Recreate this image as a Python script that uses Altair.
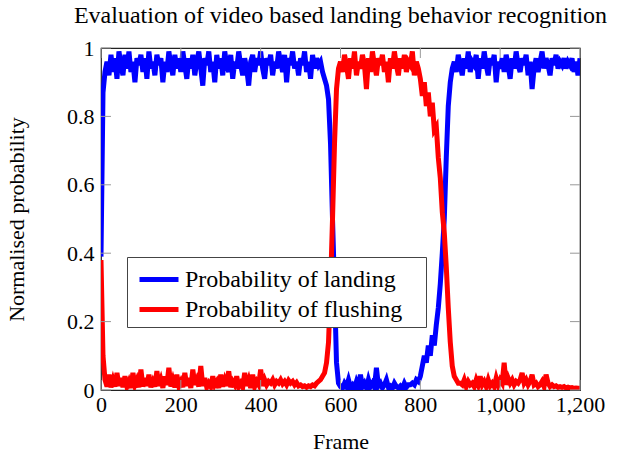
import altair as alt
import pandas as pd

frames = list(range(0, 1201, 5))

landing = [
    0.39, 0.87, 0.93, 0.96, 0.92, 0.98, 0.93, 0.97, 0.91, 0.99,
    0.95, 0.92, 0.98, 0.94, 0.99, 0.93, 0.96, 0.90, 0.97, 0.95,
    0.98, 0.93, 0.97, 0.91, 0.99, 0.94, 0.96, 0.92, 0.98, 0.95,
    0.97, 0.90, 0.96, 0.93, 0.99, 0.95, 0.92, 0.98, 0.94, 0.97,
    0.93, 0.99, 0.95, 0.91, 0.97, 0.94, 0.98, 0.92, 0.96, 0.99,
    0.94, 0.89, 0.97, 0.95, 0.99, 0.93, 0.96, 0.90, 0.98, 0.94,
    0.97, 0.92, 0.99, 0.95, 0.93, 0.98, 0.91, 0.96, 0.94, 0.99,
    0.95, 0.92, 0.97, 0.94, 0.89, 0.96, 0.98, 0.93, 0.97, 0.95,
    0.99, 0.94, 0.91, 0.97, 0.95, 0.98, 0.92, 0.96, 0.94, 0.99,
    0.96, 0.93, 0.98, 0.90, 0.97, 0.95, 0.99, 0.94, 0.96, 0.92,
    0.97, 0.95, 0.99, 0.93, 0.96, 0.91, 0.98, 0.94, 0.97, 0.95,
    0.96, 0.93, 0.91, 0.89, 0.85, 0.72, 0.50, 0.30, 0.08, 0.02,
    0.01, 0.005, 0.02, 0.01, 0.03, 0.008, 0.015, 0.005, 0.025, 0.01,
    0.045, 0.01, 0.02, 0.006, 0.03, 0.01, 0.02, 0.008, 0.065, 0.012,
    0.02, 0.006, 0.015, 0.03, 0.008, 0.012, 0.005, 0.02, 0.01, 0.006,
    0.012, 0.005, 0.02, 0.008, 0.015, 0.015, 0.02, 0.015, 0.03, 0.025,
    0.04, 0.07, 0.10, 0.08, 0.13, 0.10, 0.16, 0.13, 0.19, 0.24,
    0.31, 0.40, 0.50, 0.68, 0.83, 0.90, 0.94, 0.96, 0.93, 0.98,
    0.95, 0.92, 0.97, 0.94, 0.99, 0.93, 0.96, 0.95, 0.98, 0.91,
    0.97, 0.94, 0.99, 0.95, 0.92, 0.97, 0.95, 0.98, 0.90, 0.96,
    0.94, 0.97, 0.93, 0.98, 0.95, 0.91, 0.97, 0.94, 0.99, 0.95,
    0.93, 0.97, 0.95, 0.98, 0.92, 0.96, 0.88, 0.94, 0.97, 0.93,
    0.96, 0.99, 0.94, 0.97, 0.95, 0.92, 0.97, 0.95, 0.98, 0.94,
    0.96, 0.95, 0.97, 0.94, 0.96, 0.95, 0.97, 0.93, 0.96, 0.92,
    0.97,
]

flushing = [
    0.38, 0.10, 0.03, 0.01, 0.045, 0.008, 0.03, 0.01, 0.05, 0.012,
    0.035, 0.008, 0.04, 0.01, 0.025, 0.006, 0.05, 0.015, 0.03, 0.008,
    0.06, 0.01, 0.035, 0.012, 0.045, 0.008, 0.025, 0.01, 0.055, 0.012,
    0.03, 0.006, 0.04, 0.015, 0.065, 0.01, 0.03, 0.008, 0.045, 0.012,
    0.025, 0.008, 0.05, 0.012, 0.035, 0.006, 0.06, 0.015, 0.03, 0.01,
    0.07, 0.012, 0.035, 0.008, 0.02, 0.01, 0.04, 0.015, 0.025, 0.006,
    0.045, 0.01, 0.03, 0.012, 0.055, 0.008, 0.025, 0.015, 0.04, 0.01,
    0.02, 0.008, 0.05, 0.012, 0.03, 0.006, 0.045, 0.01, 0.025, 0.015,
    0.06, 0.012, 0.03, 0.015, 0.025, 0.02, 0.03, 0.015, 0.025, 0.02,
    0.03, 0.018, 0.025, 0.015, 0.028, 0.02, 0.025, 0.015, 0.022, 0.012,
    0.015, 0.01, 0.012, 0.008, 0.012, 0.01, 0.015, 0.012, 0.02, 0.025,
    0.03, 0.04, 0.05, 0.08, 0.14, 0.30, 0.50, 0.72, 0.88, 0.94,
    0.96, 0.93, 0.98, 0.95, 0.91, 0.97, 0.94, 0.99, 0.92, 0.96,
    0.94, 0.98, 0.95, 0.88, 0.97, 0.93, 0.99, 0.95, 0.92, 0.97,
    0.95, 0.98, 0.93, 0.96, 0.90, 0.97, 0.94, 0.99, 0.95, 0.92,
    0.97, 0.94, 0.98, 0.93, 0.96, 0.95, 0.99, 0.92, 0.96, 0.94,
    0.91, 0.86, 0.90, 0.83, 0.87, 0.80, 0.84, 0.76, 0.77, 0.68,
    0.62, 0.52, 0.46, 0.36, 0.24, 0.14, 0.07, 0.04, 0.03, 0.02,
    0.02, 0.015, 0.03, 0.01, 0.025, 0.015, 0.02, 0.01, 0.03, 0.015,
    0.04, 0.015, 0.025, 0.01, 0.03, 0.012, 0.02, 0.01, 0.035, 0.015,
    0.03, 0.02, 0.08, 0.015, 0.035, 0.02, 0.03, 0.015, 0.025, 0.02,
    0.03, 0.05, 0.02, 0.03, 0.015, 0.025, 0.045, 0.015, 0.02, 0.01,
    0.015, 0.025, 0.01, 0.045, 0.02, 0.01, 0.015, 0.01, 0.012, 0.008,
    0.01, 0.008, 0.01, 0.006, 0.008, 0.006, 0.007, 0.005, 0.006, 0.005,
    0.005,
]

series_names = ["Probability of landing", "Probability of flushing"]
series_colors = ["#0000ff", "#ff0000"]
x_ticks = [0, 200, 400, 600, 800, 1000, 1200]
y_ticks = [0, 0.2, 0.4, 0.6, 0.8, 1.0]

df = pd.DataFrame({
    "frame": frames * 2,
    "p": landing + flushing,
    "series": [series_names[0]] * len(frames) + [series_names[1]] * len(frames),
})

W, H = 479, 342
FONT = "Liberation Serif"
FS = 22

xscale = alt.Scale(domain=[0, 1200], nice=False, zero=False)
yscale = alt.Scale(domain=[0, 1], nice=False)

axis_style = dict(
    labelFlush=False, labelOverlap=False, ticks=False, domain=False, grid=False,
    labelFont=FONT, labelFontSize=FS, labelColor="black",
    titleFont=FONT, titleFontSize=FS, titleFontWeight="normal", titleColor="black",
)
x_axis = alt.Axis(values=x_ticks, format=",d", labelPadding=4, titlePadding=16, **axis_style)
y_axis = alt.Axis(values=y_ticks, format="~g", labelPadding=7, titlePadding=38, **axis_style)
X_TITLE = "Frame"
Y_TITLE = "Normalised probability"

color = alt.Color(
    "series:N",
    scale=alt.Scale(domain=series_names, range=series_colors),
    legend=alt.Legend(
        title=None, orient="none", legendX=26, legendY=209,
        direction="vertical", fillColor="white", strokeColor="#444",
        padding=5, symbolType="M-0.667,0H1.933", symbolStrokeWidth=5,
        symbolSize=900, labelFont=FONT, labelFontSize=24,
        labelExpr="datum.label + '\u2800'",
        labelColor="black", rowPadding=0, labelOffset=18, labelLimit=500,
        cornerRadius=0, symbolOpacity=1, symbolFillColor="transparent",
    ),
)

base = alt.Chart(df).mark_line(strokeWidth=5, clip=True).encode(
    x=alt.X("frame:Q", scale=xscale, title=X_TITLE, axis=x_axis),
    y=alt.Y("p:Q", scale=yscale, title=Y_TITLE, axis=y_axis),
    color=color,
)

blue = base.transform_filter(alt.datum.series == series_names[0])
red = base.transform_filter(alt.datum.series == series_names[1])

xt = pd.DataFrame({"v": x_ticks})
yt = pd.DataFrame({"v": y_ticks})
TICK = 10
tick_style = dict(color="#999999", strokeWidth=1)

xb = alt.Chart(xt).mark_rule(**tick_style).encode(
    x=alt.X("v:Q", scale=xscale, title=X_TITLE, axis=x_axis),
    y=alt.value(H), y2=alt.value(H - TICK))
xtp = alt.Chart(xt).mark_rule(**tick_style).encode(
    x=alt.X("v:Q", scale=xscale, title=X_TITLE, axis=x_axis),
    y=alt.value(0), y2=alt.value(TICK))
yl = alt.Chart(yt).mark_rule(**tick_style).encode(
    y=alt.Y("v:Q", scale=yscale, title=Y_TITLE, axis=y_axis),
    x=alt.value(0), x2=alt.value(TICK))
yr = alt.Chart(yt).mark_rule(**tick_style).encode(
    y=alt.Y("v:Q", scale=yscale, title=Y_TITLE, axis=y_axis),
    x=alt.value(W), x2=alt.value(W - TICK))

chart = alt.layer(blue, red, xb, xtp, yl, yr).properties(
    width=W, height=H,
    title=alt.TitleParams(
        "Evaluation of video based landing behavior recognition",
        font=FONT, fontSize=24, fontWeight="normal", color="black",
        anchor="middle", offset=9,
    ),
    autosize=alt.AutoSizeParams(type="none"),
    padding={"left": 101, "top": 48, "right": 51, "bottom": 68},
).configure_view(
    stroke="#222222", strokeWidth=1.2
)

chart.save("out.html", embed_options={"renderer": "svg", "actions": False})
